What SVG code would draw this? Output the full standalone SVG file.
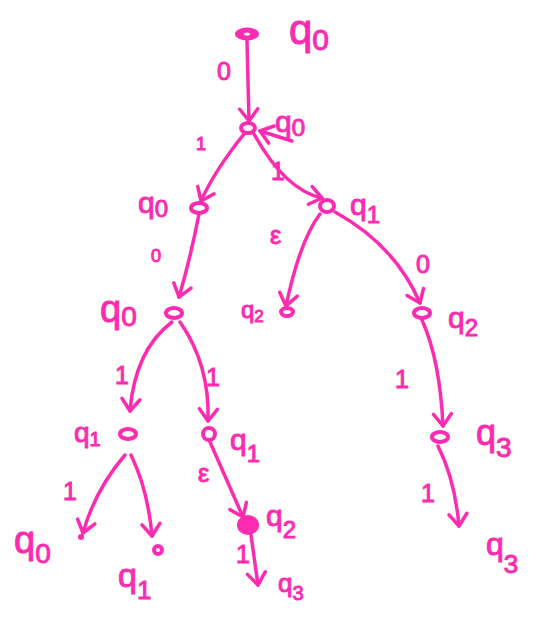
<svg xmlns="http://www.w3.org/2000/svg" width="546" height="620" viewBox="0 0 546 620">
  <style>
    .e { fill: none; stroke: #fc2cb0; stroke-width: 3.5; stroke-linecap: round; stroke-linejoin: round; marker-end: url(#v); }
    .n { fill: none; stroke: #fc2cb0; stroke-width: 4; }
    .t { fill: #fc2cb0; stroke: #fc2cb0; stroke-width: 1; font-family: "Liberation Sans", "DejaVu Sans", sans-serif; }
    .s { font-size: 30px; }
    .l { font-size: 25px; }
  </style>
  <defs>
    <marker id="v" markerUnits="userSpaceOnUse" markerWidth="30" markerHeight="30" viewBox="-16 -15 20 30" refX="0" refY="0" orient="auto">
      <path d="M-12,-9 L0,0 L-12,9" fill="none" stroke="#fc2cb0" stroke-width="3.5" stroke-linecap="round" stroke-linejoin="round"/>
    </marker>
  </defs>

  <!-- transitions -->
  <g id="edges">
    <path class="e" d="M247,41 L249,121"/>
    <path class="e" d="M244,134 Q215,170 201,201"/>
    <path class="e" d="M254,134 Q285,190 322,198"/>
    <path class="e" d="M199,214 Q190,260 179,297"/>
    <path class="e" d="M320,214 Q300,240 286,306"/>
    <path class="e" d="M335,212 Q395,245 420,303"/>
    <path class="e" d="M172,322 Q135,350 130,411"/>
    <path class="e" d="M180,322 Q210,365 208,421"/>
    <path class="e" d="M422,320 Q440,360 443,426"/>
    <path class="e" d="M125,455 Q95,490 83,533"/>
    <path class="e" d="M131,455 Q148,490 152,536"/>
    <path class="e" d="M210,442 L243,517"/>
    <path class="e" d="M251,535 L258,585"/>
    <path class="e" d="M438,446 Q455,480 459,526"/>
    <path class="e" d="M292,141 L260,131"/>
  </g>

  <!-- edge labels -->
  <g id="edge-labels" class="t l">
    <text x="217" y="80">0</text>
    <text x="196" y="150" font-size="18">1</text>
    <text x="271" y="180">1</text>
    <text x="151" y="262" font-size="18">0</text>
    <text x="270" y="244">ε</text>
    <text x="416" y="273">0</text>
    <text x="115" y="384">1</text>
    <text x="206" y="386">1</text>
    <text x="395" y="388">1</text>
    <text x="198" y="482">ε</text>
    <text x="63" y="500">1</text>
    <text x="421" y="502">1</text>
    <text x="236" y="563">1</text>
  </g>

  <g id="start">
    <ellipse cx="247" cy="34" rx="12" ry="6.5" fill="#fc2cb0"/>
    <ellipse cx="247" cy="34" rx="3" ry="1.5" fill="#fff"/>
    <text class="t" x="289" y="44" font-size="42">q<tspan font-size="30" dy="6">0</tspan></text>
  </g>
  <g id="n1">
    <ellipse class="n" cx="248" cy="128" rx="7" ry="5"/>
    <text class="t s" x="275" y="132">q<tspan font-size="24" dy="4">0</tspan></text>
  </g>
  <g id="n2">
    <ellipse class="n" cx="199" cy="208" rx="8" ry="5"/>
    <text class="t s" x="138" y="213">q<tspan font-size="24" dy="4">0</tspan></text>
  </g>
  <g id="n3">
    <ellipse class="n" cx="327" cy="206" rx="7" ry="6"/>
    <text class="t s" x="350" y="215">q<tspan font-size="24" dy="8">1</tspan></text>
  </g>
  <g id="n4">
    <ellipse class="n" cx="174" cy="313" rx="8" ry="5"/>
    <text class="t" x="100" y="322" font-size="38">q<tspan font-size="28" dy="4">0</tspan></text>
  </g>
  <g id="n5">
    <ellipse class="n" cx="287" cy="312" rx="6" ry="4"/>
    <text class="t" x="241" y="318" font-size="24">q<tspan font-size="17" dy="4">2</tspan></text>
  </g>
  <g id="n6">
    <ellipse class="n" cx="422" cy="313" rx="8" ry="5"/>
    <text class="t s" x="448" y="328">q<tspan font-size="24" dy="8">2</tspan></text>
  </g>
  <g id="n7">
    <ellipse class="n" cx="128" cy="434" rx="8" ry="5"/>
    <text class="t" x="74" y="442" font-size="28">q<tspan font-size="20" dy="4">1</tspan></text>
  </g>
  <g id="n8">
    <ellipse class="n" cx="209" cy="434" rx="6" ry="6"/>
    <text class="t s" x="230" y="450">q<tspan font-size="24" dy="12">1</tspan></text>
  </g>
  <g id="n9">
    <ellipse class="n" cx="440" cy="437" rx="8" ry="5"/>
    <text class="t" x="476" y="445" font-size="36">q<tspan font-size="28" dy="12">3</tspan></text>
  </g>
  <g id="n10">
    <circle cx="81" cy="537" r="3" fill="#fc2cb0"/>
    <text class="t" x="14" y="553" font-size="38">q<tspan font-size="28" dy="10">0</tspan></text>
  </g>
  <g id="n11">
    <ellipse class="n" cx="158" cy="550" rx="4" ry="4" stroke-width="3"/>
    <text class="t" x="118" y="587" font-size="34">q<tspan font-size="26" dy="12">1</tspan></text>
  </g>
  <g id="n12">
    <ellipse cx="248" cy="525" rx="11" ry="10" fill="#fc2cb0"/>
    <text class="t s" x="266" y="526">q<tspan font-size="24" dy="12">2</tspan></text>
  </g>
  <g id="n13">
    <text class="t" x="278" y="592" font-size="26">q<tspan font-size="20" dy="8">3</tspan></text>
  </g>
  <g id="n14">
    <text class="t" x="486" y="555" font-size="32">q<tspan font-size="26" dy="18">3</tspan></text>
  </g>
</svg>
